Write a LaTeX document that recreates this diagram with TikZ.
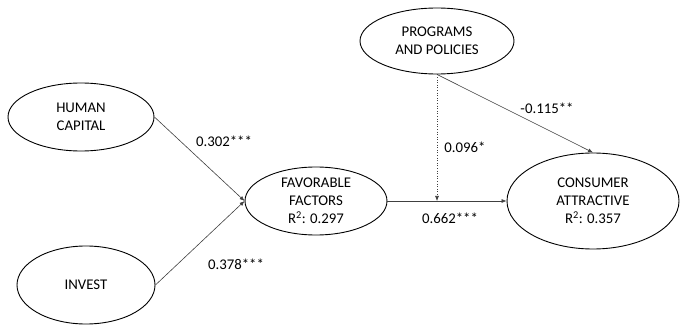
\documentclass[tikz,border=0pt]{standalone}
\usepackage{fontspec}
\setmainfont{Carlito}
\usetikzlibrary{arrows.meta,shapes.geometric}
\tikzset{
  >={Latex[length=5pt,width=4pt]},
  construct/.style={ellipse,draw,line width=0.9pt,inner sep=0pt,align=center,
    font=\fontsize{14.8}{18}\selectfont},
  path/.style={->,draw=black!75,line width=0.6pt},
  coef/.style={font=\fontsize{14.8}{17}\selectfont}
}
\begin{document}
\begin{tikzpicture}[x=1pt,y=-1pt]
  \useasboundingbox (0,0) rectangle (681,326);
  %--- Constructs ---------------------------------------------------------------
  \node[construct,minimum width=146pt,minimum height=68pt] (HC) at (81,117) {HUMAN\\CAPITAL};
  \node[construct,minimum width=138pt,minimum height=78pt] (INV) at (86,285) {INVEST};
  \node[construct,minimum width=142pt,minimum height=68pt] (FF) at (316,201)
       {FAVORABLE\\FACTORS\\R\textsuperscript{2}: 0.297};
  \node[construct,minimum width=154pt,minimum height=66pt] (PP) at (437,41) {PROGRAMS\\AND POLICIES};
  \node[construct,minimum width=172pt,minimum height=96pt] (CA) at (593,201)
       {CONSUMER\\ATTRACTIVE\\R\textsuperscript{2}: 0.357};

  %--- Paths --------------------------------------------------------------------
  \draw[path] (HC.east) -- (FF.west);
  \draw[path] (INV.east) -- (FF.west);
  \draw[path] (FF.east) -- (CA.west);
  \draw[path] (PP.south) -- (CA.north);
  \draw[path,dotted] (PP.south) -- (PP.south |- FF.east);

  %--- Coefficients -------------------------------------------------------------
  \node[coef] (c1) at (224,141) {0.302***};
  \node[coef] (c2) at (236,264) {0.378***};
  \node[coef] (c3) at (450,218) {0.662***};
  \node[coef] (c4) at (465,147) {0.096*};
  \node[coef] (c5) at (547,108) {-0.115**};
\end{tikzpicture}
\end{document}
